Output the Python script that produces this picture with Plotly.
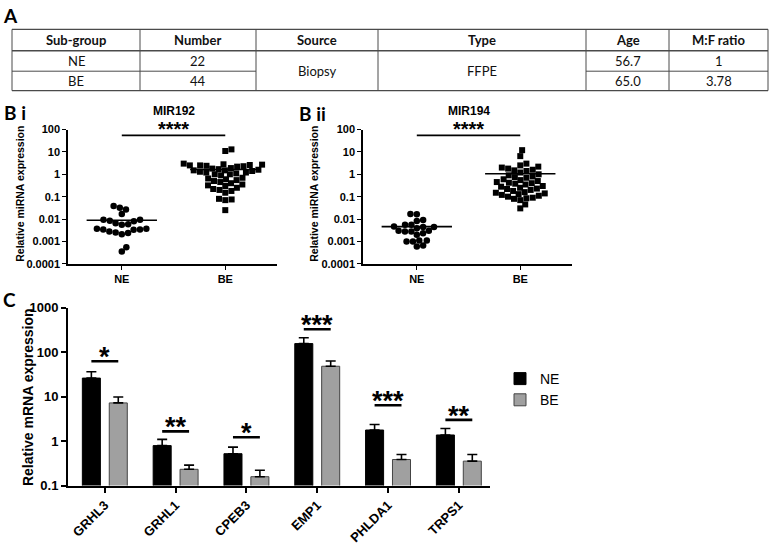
import math
import plotly.graph_objects as go

# ---------------- DATA ----------------
# Panel A table
table_header = ["Sub-group", "Number", "Source", "Type", "Age", "M:F ratio"]
table_subgroup = ["NE", "BE"]
table_number = ["22", "44"]
table_source = "Biopsy"
table_type = "FFPE"
table_age = ["56.7", "65.0"]
table_mf = ["1", "3.78"]

# Panel B i (MIR192)
mir192_ne = [0.038, 0.027, 0.0166, 0.032, 0.0093, 0.0085, 0.0065, 0.0055, 0.0059, 0.0079,
             0.0093, 0.0037, 0.0034, 0.0028, 0.0024, 0.0021, 0.0025, 0.0033, 0.0034, 0.0037,
             0.00035, 0.00055]
mir192_be = [13, 11, 3.0, 2.7, 2.5, 2.4, 2.3, 2.2, 2.5, 2.8, 2.6, 1.9, 1.8, 1.7, 1.6, 1.5,
             1.5, 1.4, 1.3, 1.2, 1.2, 1.1, 1.0, 1.0, 0.9, 0.7, 0.65, 0.6, 0.55, 0.5, 0.45,
             0.4, 0.35, 0.32, 0.3, 0.25, 0.22, 0.2, 0.18, 0.15, 0.08, 0.07, 0.075, 0.025]
# Panel B ii (MIR194)
mir194_ne = [0.017, 0.0165, 0.0081, 0.009, 0.0044, 0.0055, 0.0047, 0.0055, 0.0044, 0.0039,
             0.003, 0.0028, 0.0023, 0.002, 0.0028, 0.003, 0.0011, 0.001, 0.0006, 0.00065,
             0.001, 0.0011]
mir194_be = [12, 6.5, 3.0, 2.5, 2.2, 2.0, 1.8, 1.6, 1.5, 1.4, 1.2, 1.0, 0.9, 0.8, 0.75, 0.7,
             0.6, 0.55, 0.5, 0.45, 0.42, 0.4, 0.38, 0.35, 0.3, 0.28, 0.25, 0.23, 0.22, 0.2,
             0.18, 0.16, 0.15, 0.14, 0.13, 0.12, 0.11, 0.1, 0.09, 0.085, 0.08, 0.07, 0.045, 0.03]
b_groups = ["NE", "BE"]
b_ticks = [100, 10, 1, 0.1, 0.01, 0.001, 0.0001]
b_ticktext = ["100", "10", "1", "0.1", "0.01", "0.001", "0.0001"]
b_sig_y = 55
b_sig_label = "****"

# Panel C
genes = ["GRHL3", "GRHL1", "CPEB3", "EMP1", "PHLDA1", "TRPS1"]
ne_mean = [26, 0.79, 0.52, 155, 1.77, 1.37]
ne_err = [10, 0.30, 0.21, 55, 0.58, 0.55]
be_mean = [7.2, 0.232, 0.158, 48, 0.385, 0.354]
be_err = [2.6, 0.056, 0.063, 15, 0.115, 0.146]
sig_labels = ["*", "**", "*", "***", "***", "**"]
sig_y = [62, 1.65, 1.22, 326, 6.4, 3.0]
c_ticks = [1000, 100, 10, 1, 0.1]
c_ticktext = ["1000", "100", "10", "1", "0.1"]

# ---------------- HELPERS ----------------
W, H = 770, 549
FONT = "Arial, Liberation Sans, sans-serif"
TFONT = "Lato"


def px(x):
    return x / W


def py(y):
    return 1 - y / H


def beeswarm(vals, ppu_x, ppd_y, d):
    order = sorted(range(len(vals)), key=lambda i: vals[i])
    placed = []
    xs = [0.0] * len(vals)
    for i in order:
        y = math.log10(vals[i]) * ppd_y
        cands = [0.0]
        for (qx, qy) in placed:
            dy = abs(y - qy)
            if dy < d:
                dx = math.sqrt(d * d - dy * dy)
                cands += [qx + dx, qx - dx]
        cands.sort(key=abs)
        chosen = 0.0
        for c in cands:
            if all((c - qx) ** 2 + (y - qy) ** 2 >= d * d - 1e-6 for qx, qy in placed):
                chosen = c
                break
        placed.append((chosen, y))
        xs[i] = chosen / ppu_x
    return xs


fig = go.Figure()
shapes = []
annotations = []

# ---------------- PANEL A : TABLE ----------------
col_x = [12, 140, 256, 378, 586, 669, 768]
row_y = [23, 45, 66, 86]
line_c = "#4a4a4a"
for yy in (row_y[0], row_y[1], row_y[3]):
    shapes.append(dict(type="line", xref="paper", yref="paper", x0=px(col_x[0]), x1=px(col_x[-1]),
                       y0=py(yy), y1=py(yy), line=dict(color=line_c, width=1.3)))
for ci in (0, 1, 4, 5):
    shapes.append(dict(type="line", xref="paper", yref="paper", x0=px(col_x[ci]), x1=px(col_x[ci + 1]),
                       y0=py(row_y[2]), y1=py(row_y[2]), line=dict(color=line_c, width=1)))
for xx in col_x:
    shapes.append(dict(type="line", xref="paper", yref="paper", x0=px(xx), x1=px(xx),
                       y0=py(row_y[0]), y1=py(row_y[3]), line=dict(color=line_c, width=1)))


def cell_text(txt, ci, yc, bold=False):
    annotations.append(dict(xref="paper", yref="paper", x=px((col_x[ci] + col_x[ci + 1]) / 2),
                            y=py(yc), text=f"<b>{txt}</b>" if bold else txt, showarrow=False,
                            xanchor="center", yanchor="middle",
                            font=dict(family=TFONT, size=13, color="#111")))


for ci, h in enumerate(table_header):
    cell_text(h, ci, (row_y[0] + row_y[1]) / 2, bold=True)
for ri in range(2):
    yc = (row_y[1 + ri] + row_y[2 + ri]) / 2
    cell_text(table_subgroup[ri], 0, yc)
    cell_text(table_number[ri], 1, yc)
    cell_text(table_age[ri], 4, yc)
    cell_text(table_mf[ri], 5, yc)
cell_text(table_source, 2, (row_y[1] + row_y[3]) / 2)
cell_text(table_type, 3, (row_y[1] + row_y[3]) / 2)

for txt, x, y in [("A", 1, 9), ("B i", 2, 108), ("B ii", 297, 110), ("C", 1, 301)]:
    annotations.append(dict(xref="paper", yref="paper", x=px(x), y=py(y), text=f"<b>{txt}</b>",
                            showarrow=False, xanchor="left", yanchor="middle",
                            font=dict(family=TFONT, size=19, color="black")))

# axis titles (rotated)
for txt, x, y, size in [("Relative miRNA expression", 20, 192, 10.5),
                        ("Relative miRNA expression", 314, 192, 10.5),
                        ("Relative mRNA expression", 28, 401, 14)]:
    annotations.append(dict(xref="paper", yref="paper", x=px(x), y=py(y), text=f"<b>{txt}</b>",
                            showarrow=False, xanchor="center", yanchor="middle", textangle=-90,
                            font=dict(family=FONT, size=size, color="black")))

# ---------------- PANEL B ----------------
b_xr = [-0.52, 1.5]
b_ydom = [py(264), py(126)]
b_panels = [
    ("x2", "y2", [68, 277], "MIR192", mir192_ne, mir192_be),
    ("x3", "y3", [363, 572], "MIR194", mir194_ne, mir194_be),
]
for xa, ya, dom, title, ne_vals, be_vals in b_panels:
    ppu = (dom[1] - dom[0]) / (b_xr[1] - b_xr[0])
    ppd = 23.0
    for gi, (vals, sym) in enumerate([(ne_vals, "circle"), (be_vals, "square")]):
        offs = beeswarm(vals, ppu, ppd, 6.4)
        fig.add_trace(go.Scatter(x=[gi + o for o in offs], y=vals, mode="markers", xaxis=xa, yaxis=ya,
                                 marker=dict(symbol=sym, size=6.5 if sym == "circle" else 6,
                                             color="black", line=dict(width=0)),
                                 showlegend=False, cliponaxis=False, hoverinfo="skip"))
        m = sum(vals) / len(vals)
        shapes.append(dict(type="line", xref=xa, yref=ya, x0=gi - 0.34, x1=gi + 0.34, y0=m, y1=m,
                           line=dict(color="black", width=1.6)))
    shapes.append(dict(type="line", xref=xa, yref=ya, x0=0, x1=1, y0=b_sig_y, y1=b_sig_y,
                       line=dict(color="black", width=1.8)))
    annotations.append(dict(xref=xa, yref=ya, x=0.5, y=math.log10(b_sig_y), text=f"<b>{b_sig_label}</b>",
                            showarrow=False, yanchor="bottom", yshift=-7,
                            font=dict(family=FONT, size=20, color="black")))
    annotations.append(dict(xref=xa, yref="paper", x=0.5, y=py(107), text=f"<b>{title}</b>",
                            showarrow=False, yanchor="middle",
                            font=dict(family=FONT, size=12, color="black")))

axis_b_common = dict(showline=True, linecolor="black", linewidth=1.5, ticks="outside", ticklen=4,
                     tickwidth=1.3, tickcolor="black", showgrid=False, zeroline=False,
                     tickfont=dict(family=FONT, size=11, color="black"))
fig.update_layout(
    xaxis2=dict(domain=[px(68), px(277)], anchor="y2", range=b_xr, tickvals=[0, 1],
                ticktext=[f"<b>{g}</b>" for g in b_groups], **axis_b_common),
    yaxis2=dict(domain=b_ydom, anchor="x2", type="log", range=[-4, 2], tickvals=b_ticks,
                ticktext=[f"<b>{t}</b>" for t in b_ticktext], **axis_b_common),
    xaxis3=dict(domain=[px(363), px(572)], anchor="y3", range=b_xr, tickvals=[0, 1],
                ticktext=[f"<b>{g}</b>" for g in b_groups], **axis_b_common),
    yaxis3=dict(domain=b_ydom, anchor="x3", type="log", range=[-4, 2], tickvals=b_ticks,
                ticktext=[f"<b>{t}</b>" for t in b_ticktext], **axis_b_common),
)

# ---------------- PANEL C ----------------
xi = list(range(len(genes)))
fig.add_trace(go.Bar(x=xi, y=ne_mean, name="NE", marker=dict(color="black", line=dict(color="black", width=1)),
                     error_y=dict(type="data", symmetric=False, array=ne_err, arrayminus=[0] * len(genes),
                                  color="black", thickness=1.6, width=5),
                     xaxis="x", yaxis="y", hoverinfo="skip"))
fig.add_trace(go.Bar(x=xi, y=be_mean, name="BE", marker=dict(color="#a0a0a0", line=dict(color="#444", width=1)),
                     error_y=dict(type="data", symmetric=False, array=be_err, arrayminus=[0] * len(genes),
                                  color="black", thickness=1.6, width=5),
                     xaxis="x", yaxis="y", hoverinfo="skip"))
for i in xi:
    shapes.append(dict(type="line", xref="x", yref="y", x0=i - 0.19, x1=i + 0.19, y0=sig_y[i], y1=sig_y[i],
                       line=dict(color="black", width=2.6)))
    annotations.append(dict(xref="x", yref="y", x=i, y=math.log10(sig_y[i]), text=f"<b>{sig_labels[i]}</b>",
                            showarrow=False, yanchor="bottom", yshift=-13,
                            font=dict(family=FONT, size=27, color="black")))

axis_c_common = dict(showline=True, linecolor="black", linewidth=2, ticks="outside", ticklen=5,
                     tickwidth=2, tickcolor="black", showgrid=False, zeroline=False,
                     tickfont=dict(family=FONT, size=13, color="black"))
fig.update_layout(
    xaxis=dict(domain=[px(68), px(490)], anchor="y", range=[-0.52, 5.44], tickvals=xi,
               ticktext=[f"<b>{g}</b>" for g in genes], tickangle=-45, **axis_c_common),
    yaxis=dict(domain=[py(492), py(309)], anchor="x", type="log", range=[-1, 3], tickvals=c_ticks,
               ticktext=[f"<b>{t}</b>" for t in c_ticktext], **axis_c_common),
    barmode="group", bargap=0.24, bargroupgap=0.33,
    legend=dict(x=px(500), y=py(366), xanchor="left", yanchor="top",
                font=dict(family=FONT, size=14, color="black"), tracegroupgap=4,
                bgcolor="rgba(0,0,0,0)"),
)

fig.update_layout(width=W, height=H, margin=dict(l=0, r=0, t=0, b=0), autosize=False,
                  paper_bgcolor="white", plot_bgcolor="white", shapes=shapes, annotations=annotations,
                  font=dict(family=FONT, color="black"), hovermode=False)
fig.write_html("out.html", config={"displayModeBar": False},
               post_script="document.documentElement.style.margin='0';document.body.style.margin='0';"
                           "document.body.style.overflow='hidden';")
